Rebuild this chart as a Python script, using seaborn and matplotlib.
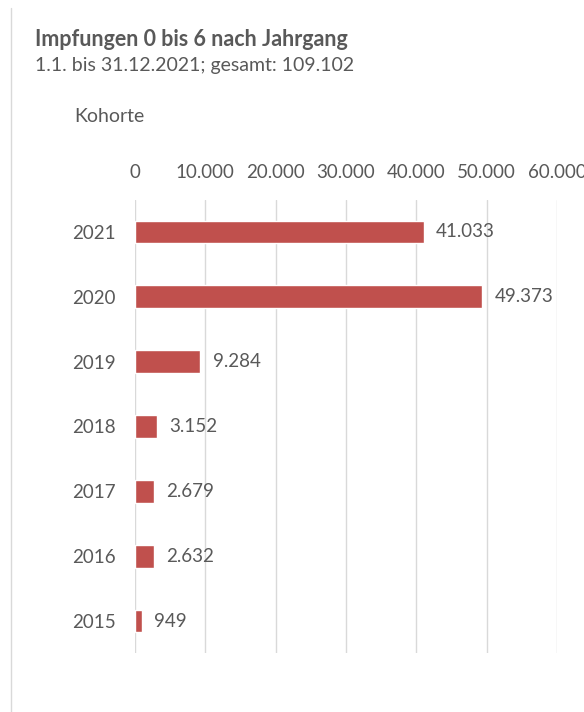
import matplotlib
matplotlib.use("Agg")
import matplotlib.pyplot as plt
import seaborn as sns
import pandas as pd

# Data
jahrgang = ["2021", "2020", "2019", "2018", "2017", "2016", "2015"]
impfungen = [41033, 49373, 9284, 3152, 2679, 2632, 949]
x_ticks = [0, 10000, 20000, 30000, 40000, 50000, 60000]

df = pd.DataFrame({"Kohorte": jahrgang, "Impfungen": impfungen})

sns.set_theme(style="white")
plt.rcParams["font.family"] = ["Lato", "DejaVu Sans"]

grey = "#595959"
fig = plt.figure(figsize=(5.84, 7.12), dpi=100)
ax = fig.add_axes([0.2312, 0.0822, 0.7226, 0.6376])

sns.barplot(data=df, x="Impfungen", y="Kohorte", orient="h", order=jahrgang,
            color="#C0504D", saturation=1, width=0.35, ax=ax)

ax.set_xlim(0, 60000)
ax.set_ylim(6.5, -0.5)
ax.set_xticks(x_ticks)
ax.set_xticklabels([f"{t:,}".replace(",", ".") for t in x_ticks])
ax.xaxis.tick_top()
ax.tick_params(axis="x", length=0, pad=13, labelsize=13.5, colors=grey)
ax.tick_params(axis="y", length=0, pad=14, labelsize=13.5, colors=grey)
ax.set_xlabel("")
ax.set_ylabel("")
ax.grid(axis="x", color="#D9D9D9", linewidth=1)
ax.set_axisbelow(True)
for s in ax.spines.values():
    s.set_visible(False)

# value labels
for i, v in enumerate(impfungen):
    ax.annotate(f"{v:,}".replace(",", "."), (v, i), xytext=(9, 0),
                textcoords="offset points", va="center", ha="left",
                fontsize=13.5, color=grey)

# titles
fig.text(35 / 584, 1 - 40 / 712, "Impfungen 0 bis 6 nach Jahrgang",
         fontsize=15.5, fontweight="bold", color=grey, va="center")
fig.text(35 / 584, 1 - 66 / 712, "1.1. bis 31.12.2021; gesamt: 109.102",
         fontsize=14, color=grey, va="center")
fig.text(74 / 584, 1 - 116 / 712, "Kohorte", fontsize=14, color=grey, va="center")

# light frame line on the left
fig.add_artist(plt.Line2D([11 / 584, 11 / 584], [0, 1 - 8 / 712],
                          color="#D9D9D9", linewidth=1, transform=fig.transFigure))

fig.savefig("out.png", dpi=100)
